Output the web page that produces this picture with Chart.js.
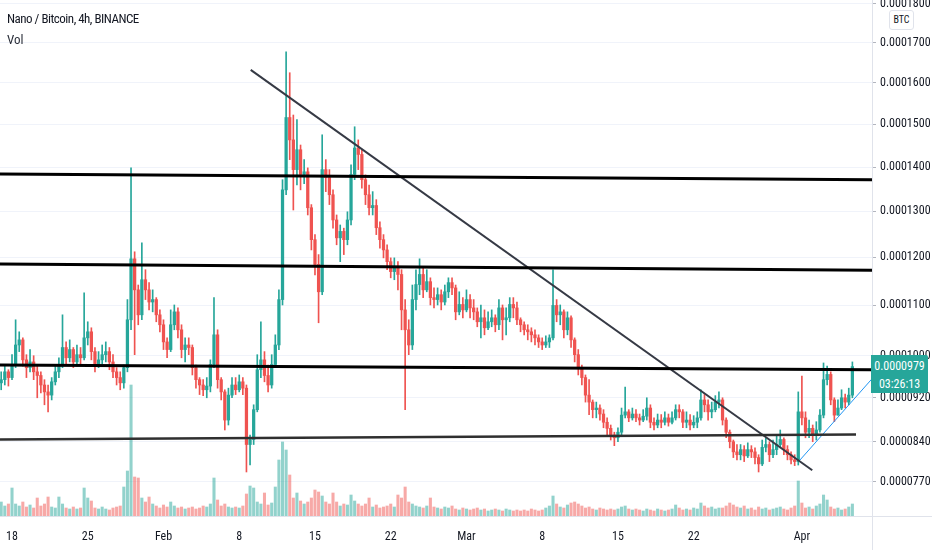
<!DOCTYPE html>
<html>
<head>
<meta charset="utf-8">
<script src="https://cdn.jsdelivr.net/npm/chart.js@4.4.0/dist/chart.umd.min.js"></script>
<style>
  body { margin: 0; background: #fff; }
  #wrap { position: relative; width: 932px; height: 550px; overflow: hidden; }
  #wrap canvas { position: absolute; left: 0; top: 0; }
  .txt { position: absolute; color: #131722; font-family: "Liberation Sans Narrow", "Roboto Condensed", Roboto, sans-serif; white-space: nowrap; }
  #title { left: 7px; top: 11px; font-size: 13px; letter-spacing: -0.5px; }
  #vol { left: 7px; top: 32px; font-size: 13px; color: #2a2e39; }
  #unit { left: 889px; top: 10px; width: 23px; height: 18px; line-height: 18px; font-size: 10px; text-align: center;
          border: 1px solid #e0e3eb; border-radius: 3px; background: #fff; }
  #last { left: 871px; top: 355px; width: 57px; height: 38px; background: #26a69a; color: #fff; font-size: 12px;
          border-radius: 0 2px 2px 0; text-align: center; }
  #last div { height: 18px; line-height: 18px; }
</style>
</head>
<body>
<div id="wrap">
  <canvas id="myChart" width="932" height="550"></canvas>
  <div class="txt" id="title">Nano / Bitcoin, 4h, BINANCE</div>
  <div class="txt" id="vol">Vol</div>
  <div class="txt" id="unit">BTC</div>
  <div class="txt" id="last"><div style="margin-top:2px">0.0000979</div><div id="timer">03:26:13</div></div>
</div>
<script>
// prices in units of 0.0000001 BTC, one candle every 8h starting Jan 17 00:00
// (x axis counts days from Jan 18)
const firstDay = -1;
const candleStep = 1 / 3;
const firstOpen = 948;

const closes = [
  954, 969, 958, 983, 1021, 1031, 992, 977, 988, 969,
  962, 944, 931, 925, 950, 969, 983, 1016, 996, 1012,
  988, 1002, 996, 1035, 1047, 1008, 981, 992, 1002, 1008,
  988, 969, 958, 948, 977, 1071, 1197, 1132, 1081, 1153,
  1132, 1107, 1112, 1081, 1061, 1027, 1012, 1061, 1087, 1051,
  1012, 1021, 1016, 977, 954, 944, 935, 942, 983, 1041,
  954, 931, 879, 925, 944, 935, 950, 938, 835, 844,
  898, 973, 992, 962, 944, 983, 1021, 1112, 1348, 1516,
  1463, 1394, 1440, 1383, 1389, 1308, 1238, 1185, 1128, 1394,
  1376, 1337, 1281, 1242, 1256, 1238, 1281, 1383, 1444, 1429,
  1371, 1337, 1308, 1313, 1264, 1238, 1216, 1191, 1170, 1178,
  1164, 1091, 1051, 1021, 1112, 1143, 1164, 1132, 1149, 1116,
  1112, 1122, 1107, 1128, 1147, 1136, 1087, 1102, 1091, 1112,
  1095, 1087, 1067, 1075, 1055, 1067, 1075, 1061, 1095, 1071,
  1075, 1102, 1095, 1071, 1061, 1051, 1047, 1041, 1035, 1027,
  1021, 1027, 1035, 1100, 1081, 1087, 1051, 1075, 1031, 1002,
  977, 958, 925, 912, 898, 901, 890, 875, 864, 852,
  847, 857, 888, 894, 883, 890, 883, 879, 886, 901,
  875, 870, 879, 875, 883, 875, 883, 898, 894, 875,
  879, 870, 875, 883, 916, 907, 894, 898, 912, 916,
  879, 857, 840, 822, 817, 826, 815, 826, 822, 812,
  801, 830, 835, 817, 826, 835, 844, 826, 817, 808,
  805, 894, 883, 857, 864, 852, 861, 888, 954, 964,
  916, 888, 901, 920, 912, 925, 979
];
const highs = [
  969, 982, 973, 1002, 1071, 1047, 1035, 1002, 1012, 1000,
  982, 969, 954, 944, 958, 982, 996, 1081, 1027, 1031,
  1016, 1021, 1016, 1126, 1067, 1055, 1016, 1008, 1021, 1027,
  1016, 1002, 977, 969, 982, 1112, 1398, 1212, 1142, 1231,
  1174, 1147, 1132, 1116, 1091, 1071, 1035, 1091, 1101, 1095,
  1061, 1035, 1035, 1021, 982, 958, 954, 958, 992, 1116,
  1051, 958, 935, 938, 958, 958, 963, 958, 944, 852,
  907, 1002, 1067, 1008, 982, 1002, 1041, 1132, 1371, 1677,
  1625, 1522, 1511, 1451, 1417, 1398, 1315, 1249, 1206, 1475,
  1417, 1394, 1348, 1292, 1270, 1263, 1299, 1405, 1494, 1463,
  1440, 1382, 1359, 1344, 1326, 1277, 1249, 1227, 1199, 1199,
  1191, 1174, 1112, 1071, 1142, 1174, 1197, 1178, 1174, 1157,
  1136, 1136, 1132, 1142, 1157, 1157, 1142, 1128, 1116, 1132,
  1122, 1112, 1095, 1101, 1091, 1087, 1091, 1081, 1112, 1101,
  1095, 1116, 1116, 1107, 1075, 1067, 1061, 1055, 1051, 1041,
  1035, 1039, 1041, 1174, 1112, 1101, 1091, 1087, 1079, 1035,
  1012, 982, 963, 954, 916, 912, 907, 898, 883, 870,
  857, 865, 901, 940, 898, 901, 898, 890, 898, 920,
  907, 883, 890, 889, 894, 890, 894, 907, 907, 898,
  894, 889, 887, 894, 935, 926, 916, 912, 924, 931,
  920, 883, 861, 843, 835, 835, 833, 838, 833, 829,
  817, 843, 847, 840, 843, 852, 861, 847, 833, 822,
  817, 931, 961, 894, 879, 870, 876, 898, 986, 980,
  969, 920, 916, 935, 927, 938, 988
];
const lows = [
  935, 944, 942, 954, 977, 1008, 980, 958, 969, 954,
  920, 929, 907, 894, 916, 944, 958, 977, 982, 988,
  977, 980, 982, 992, 1021, 992, 969, 977, 984, 988,
  973, 958, 944, 935, 938, 969, 1051, 1002, 1061, 1071,
  1112, 1091, 1087, 1067, 1047, 1012, 996, 1008, 1051, 1035,
  996, 988, 1002, 963, 938, 926, 924, 920, 931, 977,
  938, 916, 861, 870, 920, 926, 931, 926, 787, 799,
  835, 894, 958, 950, 931, 938, 977, 1012, 1101, 1337,
  1417, 1303, 1359, 1348, 1362, 1292, 1216, 1163, 1065, 1122,
  1344, 1315, 1263, 1227, 1191, 1206, 1227, 1270, 1371, 1394,
  1352, 1315, 1292, 1292, 1249, 1220, 1199, 1174, 1157, 1153,
  1132, 1051, 898, 1002, 1012, 1091, 1122, 1116, 1128, 1101,
  1095, 1101, 1091, 1101, 1116, 1122, 1071, 1081, 1075, 1087,
  1075, 1071, 1057, 1035, 1041, 1051, 1057, 1047, 1051, 1031,
  1041, 1067, 1075, 1061, 1047, 1041, 1031, 1027, 1021, 1016,
  1012, 1016, 1016, 1031, 1067, 1061, 1035, 1041, 1016, 988,
  963, 944, 912, 889, 883, 883, 879, 865, 852, 843,
  833, 840, 852, 883, 876, 879, 876, 870, 876, 879,
  865, 861, 865, 865, 870, 868, 872, 879, 883, 865,
  865, 861, 865, 865, 879, 894, 879, 883, 894, 901,
  870, 847, 829, 812, 808, 808, 805, 812, 812, 801,
  787, 798, 822, 805, 812, 817, 829, 817, 808, 801,
  798, 799, 870, 847, 847, 840, 843, 857, 883, 944,
  907, 876, 889, 898, 901, 907, 920
];
// volume, thousands of NANO
const volumes = [
  14, 10, 12, 28, 12, 10, 14, 9, 11, 8,
  18, 10, 12, 19, 9, 8, 19, 12, 8, 7,
  9, 7, 8, 28, 18, 15, 8, 7, 9, 7,
  6, 8, 9, 10, 29, 45, 131, 39, 38, 18,
  14, 19, 12, 10, 8, 11, 9, 14, 10, 8,
  9, 7, 8, 9, 7, 8, 10, 9, 12, 38,
  16, 10, 12, 9, 8, 9, 8, 10, 22, 30,
  28, 14, 12, 23, 11, 13, 29, 56, 74, 66,
  41, 18, 23, 15, 12, 14, 18, 26, 24, 20,
  14, 12, 23, 14, 10, 12, 11, 21, 15, 12,
  10, 12, 18, 9, 11, 8, 9, 10, 12, 9,
  21, 18, 29, 14, 12, 10, 9, 8, 10, 18,
  9, 8, 7, 9, 8, 10, 7, 6, 8, 7,
  6, 7, 8, 6, 7, 5, 6, 7, 6, 5,
  7, 6, 5, 6, 5, 6, 5, 7, 6, 5,
  6, 8, 10, 20, 12, 9, 8, 11, 13, 14,
  12, 10, 8, 9, 7, 6, 8, 7, 6, 7,
  6, 7, 9, 10, 7, 6, 7, 6, 5, 7,
  6, 5, 7, 6, 5, 6, 7, 11, 8, 6,
  7, 6, 8, 7, 13, 10, 8, 9, 7, 8,
  8, 10, 13, 11, 9, 8, 10, 7, 8, 6,
  9, 7, 8, 6, 7, 8, 9, 7, 6, 8,
  10, 35, 13, 8, 9, 7, 10, 12, 21, 16,
  9, 7, 8, 6, 7, 9, 12
];

// axis ticks
const priceTicks = [770, 840, 920, 1000, 1100, 1200, 1300, 1400, 1500, 1600, 1700, 1800];
const dateTicks = [0, 7, 14, 21, 28, 35, 42, 49, 56, 63, 73];
const dateLabels = ['18', '25', 'Feb', '8', '15', '22', 'Mar', '8', '15', '22', 'Apr'];

// drawn lines: [day, price] start and end
const levelLines = [
  [[-1.11, 1384], [79.5, 1371]],
  [[-1.11, 1186], [79.5, 1173]],
  [[-1.11, 982], [79.5, 973]]
];
const supportLine = [[-1.11, 844], [78.0, 853]];
const downTrend = [[22.06, 1632], [73.96, 790]];
const upTrend = [[72.74, 806], [79.45, 955]];

const UP = '#26a69a', DOWN = '#ef5350';
const UP_VOL = 'rgba(38,166,154,0.5)', DOWN_VOL = 'rgba(239,83,80,0.5)';

// price axis as on the picture: square-root spacing
class SqrtScale extends Chart.LinearScale {
  getPixelForValue(value) {
    const a = Math.sqrt(this.min), b = Math.sqrt(this.max);
    return this.getPixelForDecimal((Math.sqrt(value) - a) / (b - a));
  }
  getValueForPixel(pixel) {
    const a = Math.sqrt(this.min), b = Math.sqrt(this.max);
    const s = a + this.getDecimalForPixel(pixel) * (b - a);
    return s * s;
  }
}
SqrtScale.id = 'sqrt';
SqrtScale.defaults = Chart.LinearScale.defaults;
Chart.register(SqrtScale);

let wicks = [], bodies = [], vols = [], candleColors = [], volColors = [];
let open = firstOpen;
for (let i = 0; i < closes.length; i++) {
  let x = firstDay + i * candleStep;
  let c = closes[i];
  let hi = Math.max(highs[i], open, c);
  let lo = Math.min(lows[i], open, c);
  wicks.push({ x: x, y: [lo, hi] });
  bodies.push({ x: x, y: [open, c] });
  vols.push({ x: x, y: volumes[i] });
  candleColors.push(c >= open ? UP : DOWN);
  volColors.push(c >= open ? UP_VOL : DOWN_VOL);
  open = c;
}

function lineSet(pts, color, width) {
  return {
    type: 'line', data: pts.map(p => ({ x: p[0], y: p[1] })), borderColor: color, borderWidth: width,
    pointRadius: 0, yAxisID: 'y', order: 0, tension: 0
  };
}

let datasets = [
  { data: vols, backgroundColor: volColors, barThickness: 2.4, yAxisID: 'yVol', order: 4, grouped: false },
  { data: wicks, backgroundColor: candleColors, barThickness: 1, yAxisID: 'y', order: 3, grouped: false },
  { data: bodies, backgroundColor: candleColors, barThickness: 2.6, minBarLength: 1, yAxisID: 'y', order: 2, grouped: false }
];
levelLines.forEach(l => datasets.push(lineSet(l, '#000000', 3)));
datasets.push(lineSet(supportLine, '#2f2f2f', 2.5));
datasets.push(lineSet(downTrend, '#363a45', 2));
datasets.push(lineSet(upTrend, '#2196f3', 1));

// light frame between plot and axes
const frame = {
  id: 'frame',
  afterDraw(chart) {
    const c = chart.ctx, a = chart.chartArea;
    c.save();
    c.strokeStyle = '#e0e3eb';
    c.lineWidth = 1;
    c.beginPath();
    c.moveTo(0, Math.round(a.bottom) + 0.5); c.lineTo(chart.width, Math.round(a.bottom) + 0.5);
    c.moveTo(Math.round(a.right) + 0.5, 0); c.lineTo(Math.round(a.right) + 0.5, chart.height);
    c.stroke();
    c.restore();
  }
};

Chart.defaults.font.family = '"Liberation Sans Narrow", "Roboto Condensed", Roboto, sans-serif';
Chart.defaults.color = '#131722';

const ctx = document.getElementById('myChart').getContext('2d');
const myChart = new Chart(ctx, {
  type: 'bar',
  data: { datasets: datasets },
  plugins: [frame],
  options: {
    responsive: false,
    animation: false,
    layout: { padding: 0 },
    plugins: { legend: { display: false }, tooltip: { enabled: false } },
    scales: {
      x: {
        type: 'linear', min: -1.11, max: 79.48, offset: false,
        grid: { display: false },
        border: { display: false },
        ticks: {
          autoSkip: false, maxRotation: 0, padding: 6, font: { size: 12 },
          callback: v => dateLabels[dateTicks.indexOf(v)]
        },
        afterBuildTicks: s => { s.ticks = dateTicks.map(v => ({ value: v })); },
        afterFit: s => { s.height = 34; s.paddingLeft = 0; s.paddingRight = 0; }
      },
      y: {
        type: 'sqrt', position: 'right', min: 713, max: 1810,
        grid: { color: '#f0f3fa', tickColor: '#b2b5be', tickLength: 4 },
        border: { display: false },
        ticks: { padding: 4, font: { size: 12 }, callback: v => (v / 1e7).toFixed(7) },
        afterBuildTicks: s => { s.ticks = priceTicks.map(v => ({ value: v })); },
        afterFit: s => { s.width = 60; s.paddingTop = 0; s.paddingBottom = 0; }
      },
      yVol: { type: 'linear', display: false, min: 0, max: 516 }
    }
  }
});
</script>
</body>
</html>
